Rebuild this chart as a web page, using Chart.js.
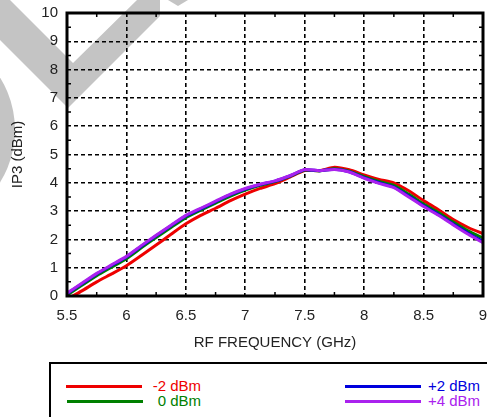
<!DOCTYPE html>
<html lang="en">
<head>
  <meta charset="UTF-8">
  <title>IP3 vs RF Frequency</title>
  <style>
    body {
      margin: 0;
      background: #fff;
      overflow: hidden;
      font-family: "Liberation Sans", Arial, sans-serif;
    }
    #wrap {
      position: relative;
      width: 487px;
      height: 417px;
    }
    #chart {
      position: absolute;
      left: 0;
      top: 0;
    }
    .legend-box {
      position: absolute;
      left: 49px;
      top: 362px;
      width: 480px;
      height: 80px;
      border: 2px solid #000;
    }
    .leg-line {
      position: absolute;
      height: 3px;
      width: 76px;
    }
    .leg-text {
      position: absolute;
      font-size: 15px;
      line-height: 16px;
      text-align: right;
      width: 70px;
    }
  </style>
</head>
<body>
  <div id="wrap">
    <canvas id="chart" width="487" height="360"></canvas>
    <div class="legend-box"></div>
    <div id="legend"></div>
  </div>

  <script src="https://cdn.jsdelivr.net/npm/chart.js"></script>
  <script>
    // frequency points (GHz)
    const freqs = [5.5, 5.625, 5.75, 5.875, 6.0, 6.125, 6.25, 6.375, 6.5, 6.625, 6.75, 6.875, 7.0, 7.125, 7.25,
                   7.375, 7.5, 7.625, 7.75, 7.875, 8.0, 8.125, 8.25, 8.375, 8.5, 8.625, 8.75, 8.875, 9.0];

    // IP3 (dBm) for each LO drive level
    const ip3Minus2 = [-0.12, 0.18, 0.50, 0.78, 1.07, 1.43, 1.80, 2.18, 2.55, 2.85, 3.10, 3.37, 3.60, 3.80, 3.97,
                       4.20, 4.43, 4.43, 4.55, 4.46, 4.28, 4.12, 4.00, 3.72, 3.37, 3.05, 2.70, 2.42, 2.20];
    const ip3Zero   = [0.03, 0.38, 0.72, 1.02, 1.32, 1.70, 2.07, 2.42, 2.77, 3.03, 3.28, 3.53, 3.74, 3.91, 4.04,
                       4.23, 4.45, 4.42, 4.50, 4.41, 4.22, 4.05, 3.91, 3.60, 3.25, 2.95, 2.61, 2.30, 2.05];
    const ip3Plus2  = [0.08, 0.43, 0.78, 1.08, 1.38, 1.76, 2.13, 2.48, 2.83, 3.08, 3.33, 3.58, 3.78, 3.94, 4.06,
                       4.24, 4.46, 4.43, 4.48, 4.39, 4.18, 4.00, 3.85, 3.53, 3.19, 2.88, 2.54, 2.22, 1.93];
    const ip3Plus4  = [0.10, 0.45, 0.80, 1.10, 1.40, 1.78, 2.15, 2.50, 2.85, 3.10, 3.35, 3.60, 3.80, 3.95, 4.07,
                       4.25, 4.47, 4.43, 4.47, 4.38, 4.16, 3.98, 3.83, 3.50, 3.16, 2.85, 2.51, 2.18, 1.88];

    const seriesLabels = ['-2 dBm', '0 dBm', '+2 dBm', '+4 dBm'];
    const seriesColors = ['#ee0000', '#008000', '#0000dd', '#aa22ee'];
    const seriesValues = [ip3Minus2, ip3Zero, ip3Plus2, ip3Plus4];

    const FONT = '"Liberation Sans", Arial, sans-serif';

    // grey watermark behind the plot
    const watermark = {
      id: 'watermark',
      beforeDraw(chart) {
        const c = chart.ctx;
        c.save();
        c.fillStyle = '#c4c4c4';
        // V-shaped band
        c.beginPath();
        c.moveTo(0, 0);
        c.lineTo(10, 0);
        c.lineTo(73, 63);
        c.lineTo(137, 0);
        c.lineTo(160, 0);
        c.lineTo(160, 16);
        c.lineTo(68, 108);
        c.lineTo(0, 40);
        c.closePath();
        c.fill();
        // bulge on the left edge
        c.beginPath();
        c.arc(-84, 130, 99, -Math.PI / 2, Math.PI / 2);
        c.closePath();
        c.fill();
        // small piece at the top
        c.beginPath();
        c.moveTo(168, 0);
        c.lineTo(188, 0);
        c.lineTo(178, 6);
        c.closePath();
        c.fill();
        c.restore();
      }
    };

    // frame and small inner ticks
    const frame = {
      id: 'frame',
      afterDraw(chart) {
        const c = chart.ctx;
        const a = chart.chartArea;
        const xs = chart.scales.x;
        const ys = chart.scales.y;
        c.save();
        c.strokeStyle = '#000';
        c.lineWidth = 1.5;
        c.beginPath();
        for (let f = 5.75; f < 9; f += 0.5) {
          const px = xs.getPixelForValue(f);
          c.moveTo(px, a.bottom); c.lineTo(px, a.bottom - 4);
          c.moveTo(px, a.top); c.lineTo(px, a.top + 4);
        }
        for (let v = 0.5; v < 10; v += 1) {
          const py = ys.getPixelForValue(v);
          c.moveTo(a.left, py); c.lineTo(a.left + 4, py);
          c.moveTo(a.right, py); c.lineTo(a.right - 4, py);
        }
        c.stroke();
        c.lineWidth = 3;
        c.strokeRect(a.left, a.top, a.right - a.left, a.bottom - a.top);
        c.restore();
      }
    };

    const datasets = seriesValues.map((vals, i) => ({
      label: seriesLabels[i],
      data: freqs.map((f, j) => ({ x: f, y: vals[j] })),
      borderColor: seriesColors[i],
      borderWidth: 3,
      pointRadius: 0,
      tension: 0.2,
      fill: false,
      order: 4 - i
    }));

    const ctx = document.getElementById('chart').getContext('2d');
    const chart = new Chart(ctx, {
      type: 'line',
      data: { datasets },
      options: {
        responsive: false,
        animation: false,
        layout: { padding: { left: 0, top: 13, right: 4, bottom: 0 } },
        plugins: {
          legend: { display: false },
          tooltip: { enabled: false }
        },
        scales: {
          x: {
            type: 'linear',
            min: 5.5,
            max: 9,
            grid: { color: '#000', lineWidth: 1.6, drawTicks: false },
            border: { display: false, dash: [4, 3] },
            ticks: {
              stepSize: 0.5,
              padding: 11,
              maxRotation: 0,
              color: '#222',
              font: { family: FONT, size: 15 },
              callback: v => String(v)
            },
            title: {
              display: true,
              text: 'RF FREQUENCY (GHz)',
              color: '#222',
              font: { family: FONT, size: 15 },
              padding: { top: 0, bottom: 8 }
            },
            afterFit(scale) {
              scale.height = 64;
              scale.paddingLeft = 0;
              scale.paddingRight = 0;
            }
          },
          y: {
            min: 0,
            max: 10,
            grid: { color: '#000', lineWidth: 1.6, drawTicks: false },
            border: { display: false, dash: [4, 3] },
            ticks: { stepSize: 1, padding: 9, color: '#222', font: { family: FONT, size: 15 } },
            title: {
              display: true,
              text: 'IP3 (dBm)',
              color: '#222',
              font: { family: FONT, size: 15 },
              padding: { top: 9, bottom: 0 }
            },
            afterFit(scale) {
              scale.width = 67;
              scale.paddingTop = 0;
              scale.paddingBottom = 0;
            }
          }
        }
      },
      plugins: [watermark, frame]
    });

    // legend (two columns, line swatch then right-aligned label)
    const legendSpots = [
      { lx: 66, tx: 131, y: 386 },
      { lx: 67, tx: 131, y: 401 },
      { lx: 345, tx: 410, y: 386 },
      { lx: 345, tx: 410, y: 401 }
    ];
    const legend = document.getElementById('legend');
    seriesLabels.forEach((lab, i) => {
      const s = legendSpots[i];
      const line = document.createElement('div');
      line.className = 'leg-line';
      line.style.left = s.lx + 'px';
      line.style.top = (s.y - 1.5) + 'px';
      line.style.background = seriesColors[i];
      legend.appendChild(line);
      const txt = document.createElement('div');
      txt.className = 'leg-text';
      txt.style.left = s.tx + 'px';
      txt.style.top = (s.y - 8) + 'px';
      txt.style.color = seriesColors[i];
      txt.textContent = lab;
      legend.appendChild(txt);
    });
  </script>
</body>
</html>
